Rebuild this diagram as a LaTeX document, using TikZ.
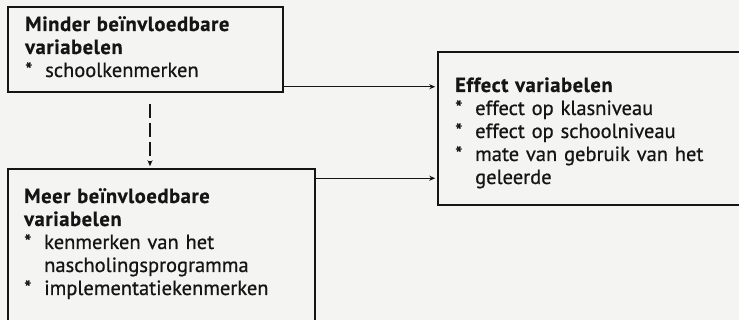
\documentclass[tikz,border=0pt]{standalone}
\usepackage{fontspec}
\setmainfont{PT Sans}[UprightFeatures={FakeBold=0.7}, BoldFeatures={FakeBold=0.6, LetterSpace=3}]
\usetikzlibrary{arrows.meta}
\definecolor{ink}{HTML}{151515}
\definecolor{paper}{HTML}{F4F4F2}
\newcommand{\bul}[1]{\makebox[20pt][l]{*}#1}
\newcommand{\cont}[1]{\hspace*{20pt}#1}
\begin{document}
\begin{tikzpicture}[x=1pt,y=-1pt,
  box/.style={draw=ink, line width=1.5pt, rectangle, inner sep=0pt},
  txt/.style={anchor=base west, text width=300pt, align=left, inner sep=0pt,
    text=ink, font=\fontsize{20.5}{23}\selectfont},
  arr/.style={draw=ink, line width=1.2pt, -{Stealth[length=6pt,width=5pt]}, shorten >=2pt},
  darr/.style={arr, dash pattern=on 14pt off 5pt}]
\clip (0,0) rectangle (739,320);
\fill[paper] (0,0) rectangle (739,320);
\node[box, minimum width=275pt, minimum height=85pt] (b1) at (145.5,49.5) {};
\node[box, minimum width=307pt, minimum height=171pt] (b2) at (161.5,254.5) {};
\node[box, minimum width=310pt, minimum height=153pt] (b3) at (593,128.5) {};
\node[txt] (t1) at (25,31) {\textbf{Minder beïnvloedbare}\\\textbf{variabelen}\\\bul{schoolkenmerken}};
\node[txt] (t2) at (24,203) {\textbf{Meer beïnvloedbare}\\\textbf{variabelen}\\\bul{kenmerken van het}\\\cont{nascholingsprogramma}\\\bul{implementatiekenmerken}};
\node[txt] (t3) at (455,92) {\textbf{Effect variabelen}\\\bul{effect op klasniveau}\\\bul{effect op schoolniveau}\\\bul{mate van gebruik van het}\\\cont{geleerde}};
\coordinate (a1) at ([yshift=6pt]b1.south east);
\coordinate (a2) at ([yshift=-10pt]b2.north east);
\coordinate (d1) at ([yshift=-11pt]b1.south west -| 150,0);
\draw[arr] (a1) -- (a1 -| b3.west);
\draw[arr] (a2) -- (a2 -| b3.west);
\draw[darr] (d1) -- (d1 |- b2.north);
\end{tikzpicture}
\end{document}
